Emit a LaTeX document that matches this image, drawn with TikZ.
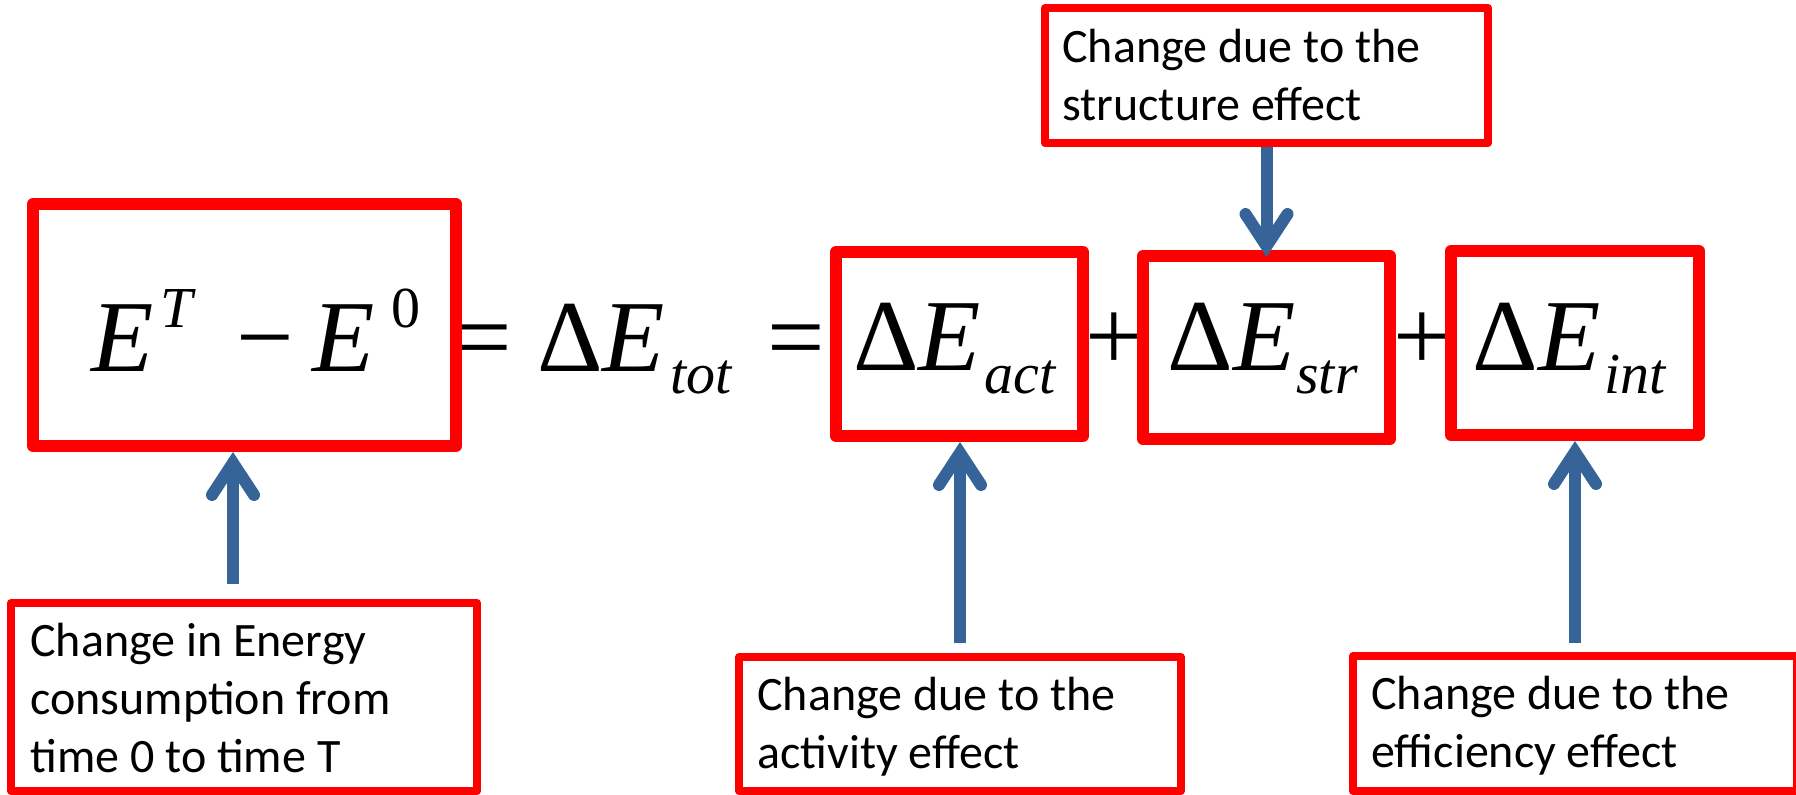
\documentclass[tikz,border=0pt]{standalone}
\usepackage{fontspec}
\setmainfont{Carlito}
\newfontfamily\tnr{Liberation Serif}
\usetikzlibrary{arrows.meta}
\definecolor{boxred}{RGB}{255,0,0}
\definecolor{arrblue}{RGB}{54,100,152}
\begin{document}
\begin{tikzpicture}[x=0.5pt,y=-0.5pt,
  eqbox/.style={draw=boxred, line width=6pt, line join=round, rectangle, inner sep=0pt},
  labbox/.style={draw=boxred, line width=4pt, line join=round, rectangle, inner sep=0pt},
  labtxt/.style={anchor=base west, inner sep=0pt, align=left, font=\fontsize{24pt}{29pt}\selectfont},
  big/.style={anchor=base west, inner sep=0pt, font=\tnr\fontsize{51pt}{51pt}\selectfont},
  small/.style={anchor=base west, inner sep=0pt, font=\tnr\fontsize{29pt}{29pt}\selectfont},
  arr/.style={draw=arrblue, line width=6pt, -{Straight Barb[length=16pt,width=21pt,line cap=round,line join=miter]}}
]
\useasboundingbox (0,0) rectangle (1796,794);

% equation text
\node[big] (e1) at (91,371) {\itshape E};
\node[small] (s1) at (160,327) {\itshape T};
\node[big] (m1) at (236,371) {−};
\node[big] (e2) at (312,371) {\itshape E};
\node[small] (s2) at (391,327) {0};
\node[big] (eq1) at (454,371) {=};
\node[big] (dtot) at (537,371) {Δ\textit{E}};
\node[small] (stot) at (670,393) {\itshape tot};
\node[big] (eq2) at (767,371) {=};
\node[big] (dact) at (853,370) {Δ\textit{E}};
\node[small] (sact) at (984,393) {\itshape act};
\node[big] (p1) at (1085,370) {+};
\node[big] (dstr) at (1167,370) {Δ\textit{E}};
\node[small] (sstr) at (1296,393) {\itshape str};
\node[big] (p2) at (1393,370) {+};
\node[big] (dint) at (1472,370) {Δ\textit{E}};
\node[small] (sint) at (1604,393) {\itshape int};

% equation boxes
\node[eqbox, minimum width=211.5pt, minimum height=121pt] (lhs) at (244.5,325) {};
\node[eqbox, minimum width=123.5pt, minimum height=92pt] (act) at (959.5,344) {};
\node[eqbox, minimum width=123.5pt, minimum height=91.5pt] (str) at (1266.5,347.5) {};
\node[eqbox, minimum width=124pt, minimum height=92pt] (int) at (1575,343) {};

% label boxes
\node[labbox, minimum width=221.5pt, minimum height=67.5pt] (lstr) at (1266.5,75.5) {};
\node[labbox, minimum width=233pt, minimum height=94pt] (llhs) at (244,697) {};
\node[labbox, minimum width=221pt, minimum height=67pt] (lact) at (960,724) {};
\node[labbox, minimum width=222pt, minimum height=67.5pt] (lint) at (1575,723.5) {};

% label texts (anchor at baseline of last line)
\node[labtxt] (tstr) at (1062,120) {Change due to the\\structure effect};
\node[labtxt] (tlhs) at (30,772) {Change in Energy\\consumption from\\time 0 to time T};
\node[labtxt] (tact) at (757,768) {Change due to the\\activity effect};
\node[labtxt] (tint) at (1371,767) {Change due to the\\efficiency effect};

% arrows
\draw[arr, shorten <=7.5pt] ([xshift=-5.5pt]llhs.north) -- ([xshift=-5.75pt]lhs.south);
\draw[arr, shorten >=-3.5pt] (lstr.south) -- (str.north);
\draw[arr, shorten <=5pt] (lact.north) -- (lact.north |- act.south);
\draw[arr, shorten <=4.5pt] (lint.north) -- (lint.north |- int.south);
\end{tikzpicture}
\end{document}
